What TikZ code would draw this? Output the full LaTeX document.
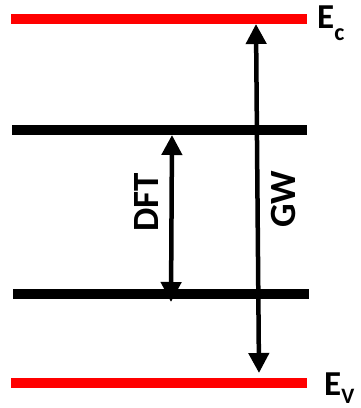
\documentclass[tikz,border=0pt]{standalone}
\usepackage{fontspec}
\setmainfont{Carlito}
\usetikzlibrary{arrows.meta}
\definecolor{bandred}{RGB}{255,0,0}

\begin{document}
\begin{tikzpicture}[
  x=1pt, y=-1pt,
  font=\bfseries,
  level/.style={line width=10pt},
  gap/.style={line width=4.5pt, {Triangle[length=20pt,width=20pt]}-{Triangle[length=20pt,width=20pt]}},
  gaplabel/.style={font=\fontsize{37}{37}\selectfont\bfseries, rotate=90, inner sep=0pt},
  edgelabel/.style={font=\fontsize{35}{35}\selectfont\bfseries, anchor=base west, inner sep=0pt}
]
\useasboundingbox (0,0) rectangle (360,408);

% band edges and levels
\coordinate (ECl) at (11,19);   \coordinate (ECr) at (307,19);
\coordinate (HOl) at (12,130);  \coordinate (HOr) at (307,130);
\coordinate (LOl) at (13,294);  \coordinate (LOr) at (309,294);
\coordinate (EVl) at (11,383);  \coordinate (EVr) at (307,383);

\draw[level, bandred] (ECl) -- (ECr);
\draw[level] (HOl) -- (HOr);
\draw[level] (LOl) -- (LOr);
\draw[level, bandred] (EVl) -- (EVr);

% gaps
\coordinate (DFTtop) at (172,135);
\coordinate (DFTbot) at (171,302);
\coordinate (GWtop) at (256,24);
\coordinate (GWbot) at (259,373);

\draw[gap] (DFTtop) -- (DFTbot);
\draw[gap] (GWtop) -- (GWbot);

\node[gaplabel] (DFT) at (147,202) {DFT};
\node[gaplabel] (GW) at (283,199) {GW};

% labels
\node[edgelabel] (Ec) at (317,28) {E\raisebox{-12pt}{\fontsize{24}{24}\selectfont c}};
\node[edgelabel] (Ev) at (324,395) {E\raisebox{-8pt}{\fontsize{22}{22}\selectfont V}};
\end{tikzpicture}
\end{document}
